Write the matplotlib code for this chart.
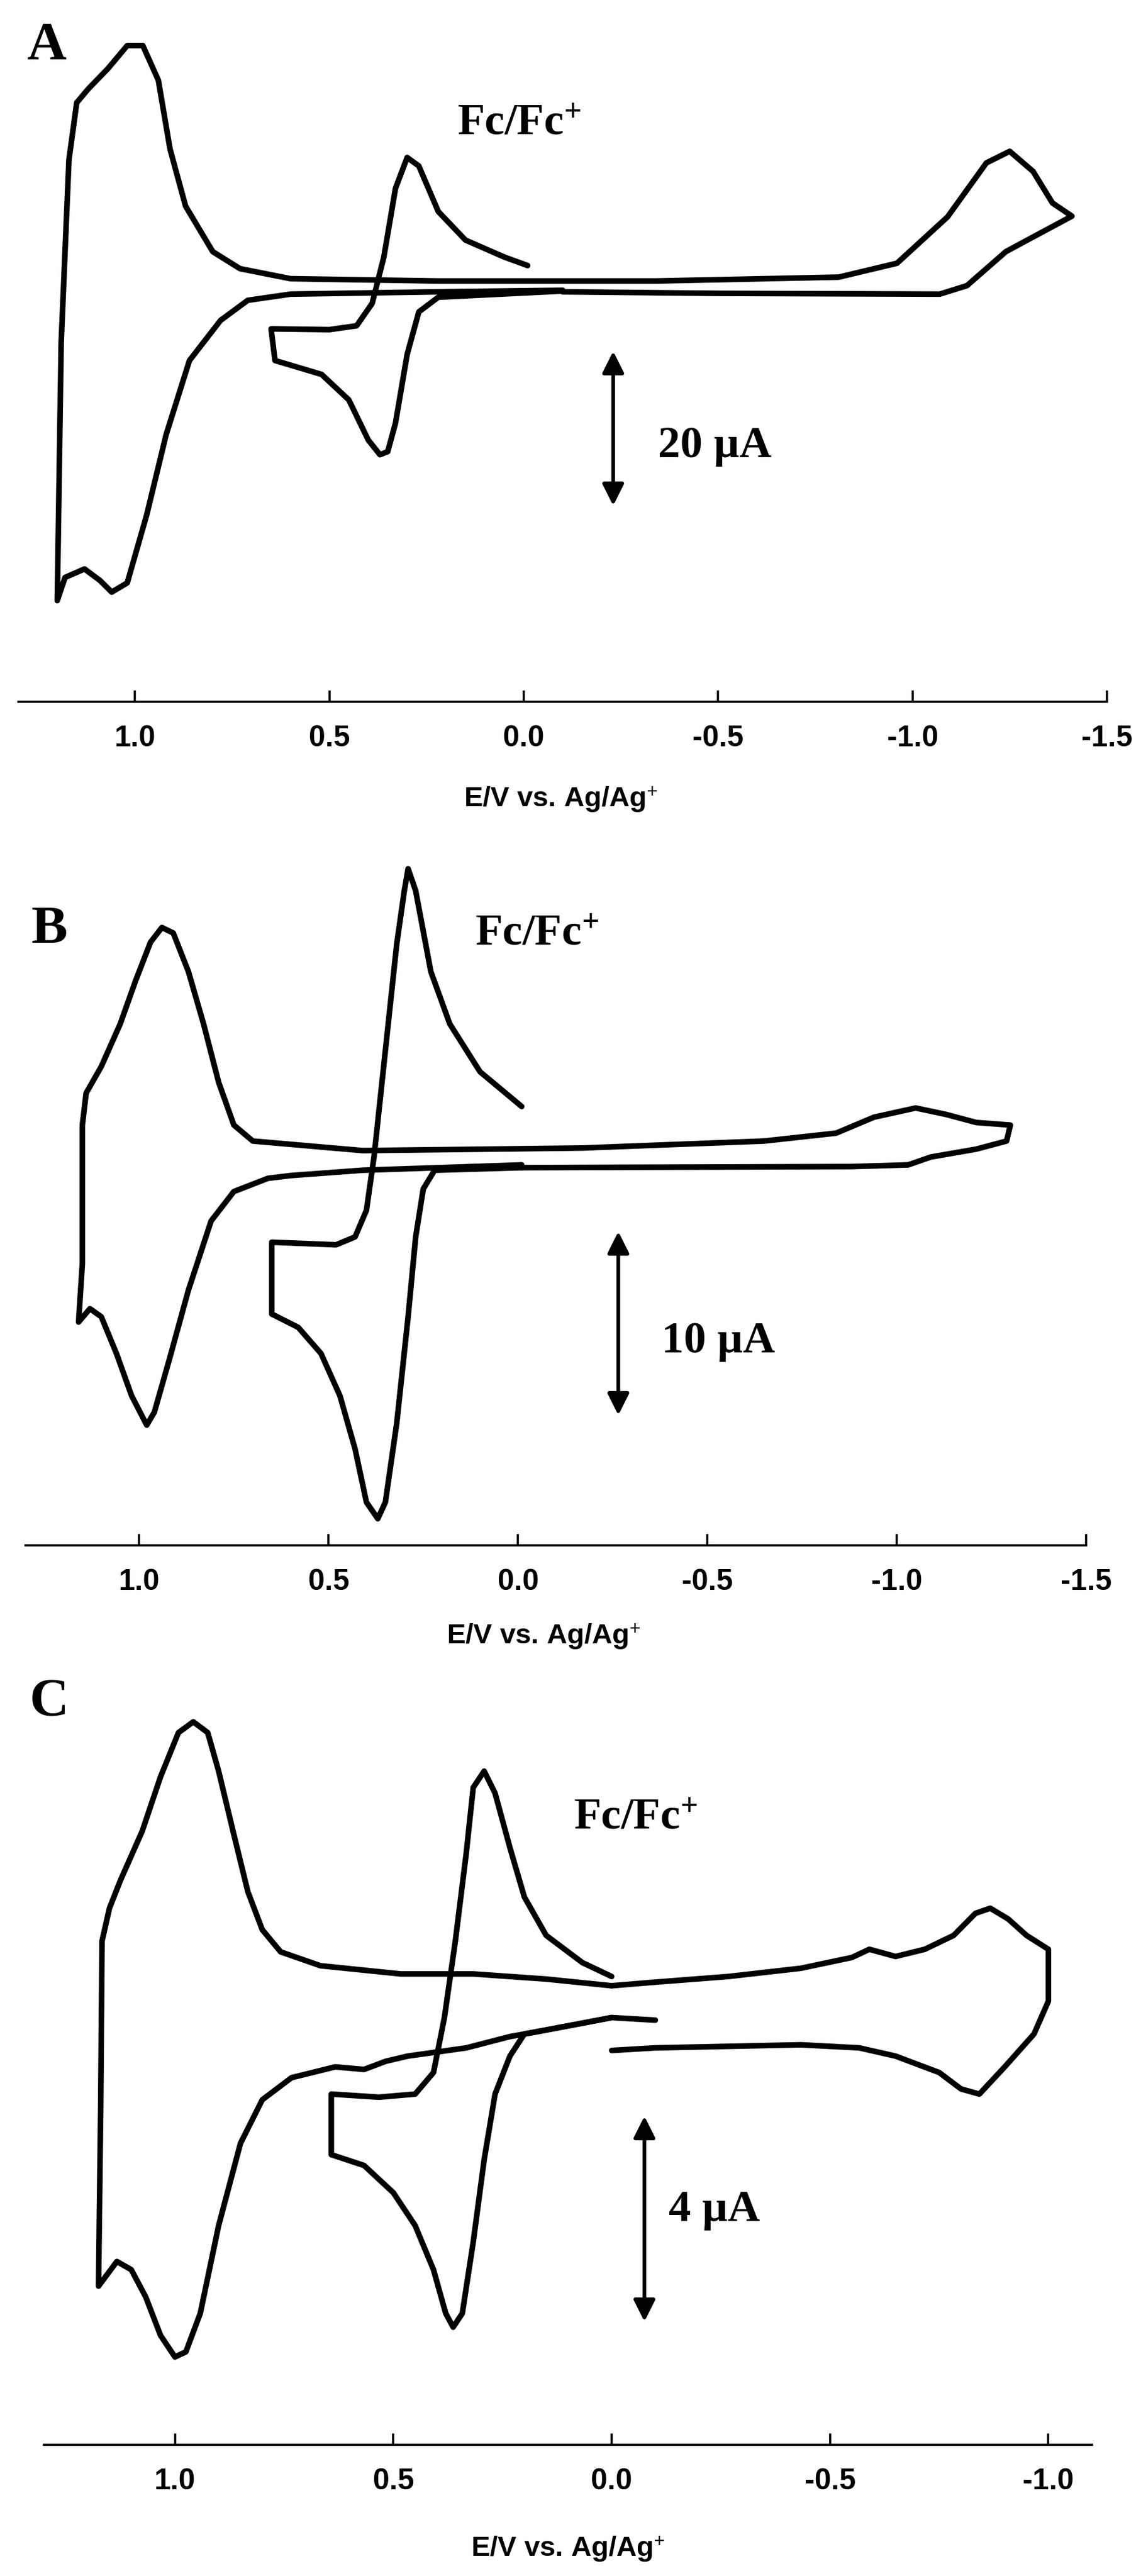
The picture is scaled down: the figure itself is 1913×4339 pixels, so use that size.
import matplotlib
matplotlib.use("Agg")
import matplotlib.pyplot as plt
from matplotlib.ticker import FuncFormatter, FixedLocator

plt.rcParams['axes.unicode_minus'] = False
plt.rcParams['mathtext.fontset'] = 'custom'
plt.rcParams['mathtext.rm'] = 'Liberation Serif:bold'
plt.rcParams['mathtext.default'] = 'rm'

# ---------------- Panel A data (E / V, I / uA) ----------------
A_main_E = [-0.10,-0.50,-1.07,-1.14,-1.24,-1.31,-1.41,-1.36,-1.31,-1.25,-1.19,-1.09,-0.96,-0.81,-0.34,0.22,0.60,0.73,0.80,0.87,0.91,0.94,0.98,1.02,1.07,1.12,1.15,1.17,1.19,1.20,1.18,1.13,1.09,1.06,1.02,0.97,0.92,0.86,0.78,0.71,0.60,0.22,-0.10]
A_main_I = [-0.4,-0.6,-0.7,0.4,4.8,6.7,9.4,11.1,15.2,17.8,16.3,9.3,3.3,1.5,1.0,1.0,1.3,2.6,4.8,10.7,18.1,27.0,31.5,31.5,28.5,25.9,24.1,16.7,-7.0,-40.4,-37.4,-36.3,-37.8,-39.3,-38.1,-29.3,-18.9,-9.3,-4.1,-1.5,-0.7,-0.4,-0.2]
A_fc_E = [-0.10,0.22,0.27,0.30,0.33,0.35,0.37,0.40,0.45,0.52,0.64,0.65,0.50,0.43,0.39,0.36,0.33,0.30,0.27,0.22,0.15,0.05,-0.01]
A_fc_I = [-0.3,-1.1,-3.0,-8.5,-17.4,-21.1,-21.5,-19.6,-14.4,-11.1,-9.3,-5.2,-5.3,-4.8,-1.9,4.1,13.0,17.0,15.9,10.0,6.3,4.1,3.0]

# ---------------- Panel B data ----------------
B_main_E = [-0.01,-0.88,-1.03,-1.09,-1.21,-1.29,-1.30,-1.21,-1.13,-1.05,-0.94,-0.84,-0.65,-0.17,0.41,0.70,0.75,0.79,0.83,0.87,0.91,0.94,0.97,1.01,1.05,1.10,1.14,1.15,1.15,1.16,1.13,1.10,1.06,1.02,0.98,0.96,0.92,0.87,0.81,0.75,0.66,0.60,0.41,-0.01]
B_main_I = [-0.58,-0.52,-0.43,0.0,0.43,0.87,1.74,1.88,2.32,2.67,2.17,1.30,0.87,0.49,0.35,0.87,1.74,4.06,7.25,10.1,12.2,12.5,11.7,9.57,7.25,4.93,3.48,1.74,-5.8,-8.99,-8.26,-8.7,-10.7,-13.0,-14.6,-13.9,-11.0,-7.25,-3.48,-1.88,-1.16,-1.01,-0.72,-0.43]
B_fc_E = [-0.01,0.22,0.25,0.27,0.29,0.32,0.35,0.37,0.40,0.43,0.47,0.52,0.58,0.65,0.65,0.48,0.43,0.40,0.38,0.35,0.32,0.30,0.29,0.27,0.23,0.18,0.10,-0.01]
B_fc_I = [-0.58,-0.72,-1.74,-4.35,-8.7,-14.5,-18.8,-19.7,-18.8,-15.9,-13.0,-10.7,-9.28,-8.55,-4.64,-4.78,-4.35,-2.9,0.0,5.8,11.6,14.5,15.7,14.5,10.1,7.25,4.64,2.75]

# ---------------- Panel C data ----------------
C_top_E = [0.0,-0.10,-0.267,-0.433,-0.55,-0.59,-0.65,-0.717,-0.783,-0.833,-0.867,-0.908,-0.95,-1.0,-1.0,-0.967,-0.90,-0.842,-0.80,-0.75,-0.65,-0.567,-0.433,-0.10,0.0]
C_top_I = [1.26,1.33,1.44,1.60,1.81,1.97,1.83,1.97,2.24,2.67,2.77,2.56,2.24,1.97,0.96,0.32,-0.32,-0.85,-0.75,-0.43,-0.11,0.05,0.11,0.05,0.0]
C_main_E = [0.0,0.15,0.317,0.483,0.667,0.758,0.80,0.833,0.867,0.90,0.925,0.958,0.992,1.033,1.075,1.125,1.15,1.167,1.17,1.175,1.133,1.10,1.067,1.033,1.0,0.975,0.942,0.90,0.85,0.80,0.733,0.633,0.567,0.517,0.467,0.333,0.233,0.167,0.067,0.0,-0.10]
C_main_I = [1.26,1.39,1.49,1.49,1.65,1.92,2.35,3.09,4.27,5.44,6.19,6.40,6.19,5.33,4.27,3.31,2.77,2.13,-1.07,-4.59,-4.11,-4.27,-4.80,-5.55,-5.97,-5.87,-5.12,-3.41,-1.81,-0.96,-0.53,-0.32,-0.37,-0.21,-0.11,0.05,0.27,0.37,0.53,0.64,0.59]
C_fc_E = [0.0,0.067,0.15,0.20,0.233,0.267,0.292,0.317,0.333,0.358,0.383,0.408,0.45,0.533,0.642,0.642,0.567,0.50,0.45,0.408,0.38,0.363,0.342,0.317,0.292,0.267,0.233,0.20,0.10,0.0]
C_fc_I = [1.44,1.71,2.24,2.99,3.95,5.01,5.44,5.12,3.84,2.13,0.64,-0.43,-0.85,-0.91,-0.85,-2.03,-2.24,-2.77,-3.41,-4.27,-5.12,-5.39,-5.12,-3.73,-2.13,-0.85,-0.11,0.32,0.48,0.64]

ticks_AB = [1.0, 0.5, 0.0, -0.5, -1.0, -1.5]
ticks_C = [1.0, 0.5, 0.0, -0.5, -1.0]

W, H = 1913, 4339
fig = plt.figure(figsize=(W/100, H/100), dpi=100)

def box(x0, x1, y0, y1):
    return [x0/W, 1-y1/H, (x1-x0)/W, (y1-y0)/H]

serif = ['Liberation Serif', 'DejaVu Serif']
sans = ['Liberation Sans', 'DejaVu Sans']
LW = 6.8

def setup(ax, xlim, ylim, ticks):
    ax.set_xlim(*xlim); ax.set_ylim(*ylim)
    for s in ['top', 'left', 'right']:
        ax.spines[s].set_visible(False)
    ax.spines['bottom'].set_linewidth(2.6)
    ax.set_yticks([])
    ax.xaxis.set_major_locator(FixedLocator(ticks))
    ax.xaxis.set_major_formatter(FuncFormatter(lambda v, p: "%.1f" % v))
    ax.tick_params(axis='x', direction='in', length=14, width=2.6, pad=28, labelsize=36)
    for t in ax.get_xticklabels():
        t.set_fontfamily(sans); t.set_fontweight('bold')
    ax.patch.set_alpha(0)

def arrow(ax, x, y0, y1):
    ax.annotate('', xy=(x, y0), xytext=(x, y1),
                arrowprops=dict(arrowstyle='<|-|>', lw=4.5, color='black', mutation_scale=55,
                                shrinkA=0, shrinkB=0))

def curve(ax, E, I):
    ax.plot(E, I, color='black', lw=LW, clip_on=False, solid_joinstyle='round', solid_capstyle='round')

axA = fig.add_axes(box(31, 1864, 0, 1182))
setup(axA, (1.30, -1.5), (-53.5, 37.4), ticks_AB)
curve(axA, A_main_E, A_main_I); curve(axA, A_fc_E, A_fc_I)
arrow(axA, -0.23, -8.1, -28.1)

axB = fig.add_axes(box(43, 1829, 1420, 2603))
setup(axB, (1.30, -1.5), (-21.15, 17.1), ticks_AB)
curve(axB, B_main_E, B_main_I); curve(axB, B_fc_E, B_fc_I)
arrow(axB, -0.265, -4.06, -14.06)

axC = fig.add_axes(box(74, 1839, 2780, 4118))
setup(axC, (1.30, -1.10), (-7.68, 7.79), ticks_C)
curve(axC, C_top_E, C_top_I); curve(axC, C_main_E, C_main_I); curve(axC, C_fc_E, C_fc_I)
arrow(axC, -0.075, -1.28, -5.28)

def ftext(x, y, s, **kw):
    fig.text(x/W, 1-y/H, s, **kw)

lab = dict(family=serif, fontsize=66, fontweight='bold', ha='left', va='center')
ftext(45, 78, 'A', **lab)
ftext(52, 1567, 'B', **lab)
ftext(50, 2868, 'C', **lab)

fc = dict(family=serif, fontsize=54, fontweight='bold', ha='left', va='center')
ftext(770, 209, 'Fc/Fc$^{+}$', **fc)
ftext(800, 1574, 'Fc/Fc$^{+}$', **fc)
ftext(966, 3063, 'Fc/Fc$^{+}$', **fc)
ftext(1108, 752, '20 µA', **fc)
ftext(1114, 2260, '10 µA', **fc)
ftext(1126, 3723, '4 µA', **fc)

xl = dict(family=sans, fontsize=34, fontweight='bold', ha='center', va='center')
ftext(944, 1346, 'E/V vs. Ag/Ag$^{+}$', **xl)
ftext(915, 2756, 'E/V vs. Ag/Ag$^{+}$', **xl)
ftext(956, 4293, 'E/V vs. Ag/Ag$^{+}$', **xl)

fig.savefig('out.png', dpi=100)
